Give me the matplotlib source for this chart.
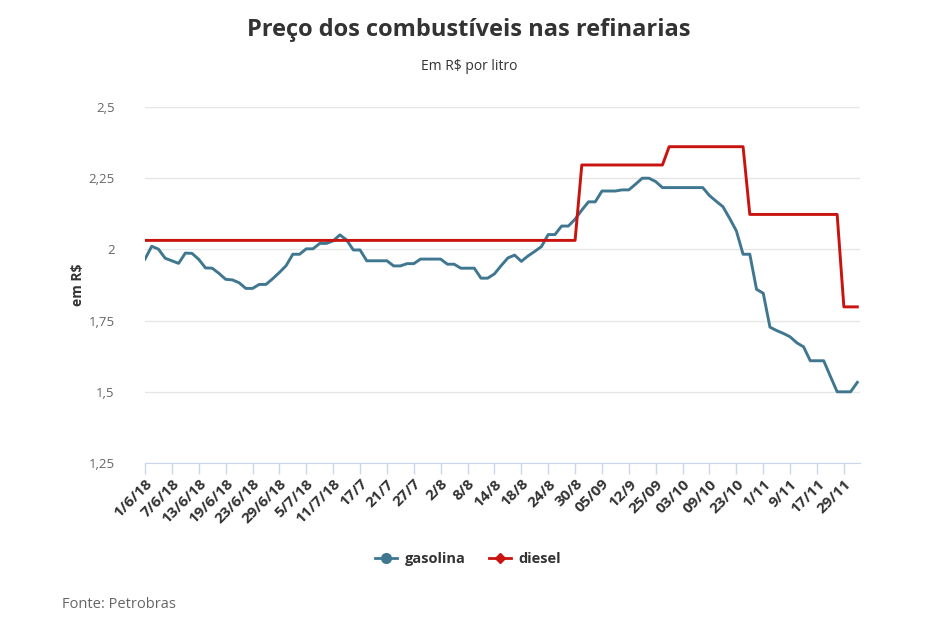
import matplotlib.pyplot as plt
from matplotlib.lines import Line2D

plt.rcParams['font.family'] = ['Open Sans', 'DejaVu Sans']

# rótulos do eixo x (um a cada 4 pontos)
rotulos = ["1/6/18", "7/6/18", "13/6/18", "19/6/18", "23/6/18", "29/6/18",
           "5/7/18", "11/7/18", "17/7", "21/7", "27/7", "2/8", "8/8", "14/8",
           "18/8", "24/8", "30/8", "05/09", "12/9", "25/09", "03/10", "09/10",
           "23/10", "1/11", "9/11", "17/11", "29/11"]

gasolina = [1.966, 2.011, 2.001, 1.969, 1.960, 1.951, 1.987, 1.986, 1.965, 1.935,
            1.934, 1.916, 1.895, 1.893, 1.883, 1.863, 1.863, 1.877, 1.877, 1.897,
            1.919, 1.943, 1.983, 1.983, 2.002, 2.002, 2.021, 2.021, 2.030, 2.051,
            2.033, 1.998, 1.998, 1.960, 1.960, 1.960, 1.960, 1.942, 1.942, 1.950,
            1.950, 1.966, 1.966, 1.966, 1.966, 1.948, 1.948, 1.934, 1.934, 1.934,
            1.899, 1.899, 1.914, 1.943, 1.970, 1.980, 1.958, 1.977, 1.993, 2.010,
            2.052, 2.052, 2.082, 2.082, 2.106, 2.138, 2.167, 2.167, 2.205, 2.205,
            2.205, 2.209, 2.209, 2.229, 2.250, 2.250, 2.238, 2.217, 2.217, 2.217,
            2.217, 2.217, 2.217, 2.217, 2.189, 2.169, 2.150, 2.109, 2.065, 1.983,
            1.983, 1.860, 1.846, 1.727, 1.715, 1.705, 1.693, 1.672, 1.658, 1.609,
            1.609, 1.609, 1.554, 1.500, 1.500, 1.500, 1.533]

diesel = [2.0316] * 65 + [2.2964] * 13 + [2.3606] * 12 + [2.1228] * 14 + [1.7982] * 3

x = list(range(len(gasolina)))
pos_rotulos = list(range(0, len(gasolina), 4))

cor_gas = '#3f7791'
cor_die = '#c8130f'

fig = plt.figure(figsize=(9.38, 6.29), dpi=100)
ax = fig.add_axes([145 / 938, 1 - 463 / 629, 715 / 938, 356 / 629])

ax.plot(x, gasolina, color=cor_gas, lw=2.1, solid_joinstyle='round')
ax.plot(x, diesel, color=cor_die, lw=2.1, solid_joinstyle='round')

ax.set_xlim(0, 106.4)
ax.set_ylim(1.25, 2.5)
yt = [1.25, 1.5, 1.75, 2.0, 2.25, 2.5]
ax.set_yticks(yt)
ax.set_yticklabels(["1,25", "1,5", "1,75", "2", "2,25", "2,5"], color='#666666', fontsize=9.5)
ax.grid(axis='y', color='#e6e6e6', lw=1)
ax.set_axisbelow(True)

ax.set_xticks(pos_rotulos)
ax.set_xticklabels(rotulos, rotation=45, ha='right', rotation_mode='anchor',
                   fontsize=11, fontweight='bold', color='#333333')
ax.tick_params(axis='x', length=8, color='#ccd6eb', width=1, pad=2)
ax.tick_params(axis='y', length=0, pad=22)

for s in ['top', 'right', 'left']:
    ax.spines[s].set_visible(False)
ax.spines['bottom'].set_color('#ccd6eb')

ax.set_ylabel("em R$", fontsize=10, fontweight='bold', color='#333333', labelpad=2)

fig.text(0.5, 1 - 30 / 629, "Preço dos combustíveis nas refinarias", ha='center', va='center',
         fontsize=17, fontweight='bold', color='#333333')
fig.text(0.5, 1 - 66 / 629, "Em R$ por litro", ha='center', va='center',
         fontsize=10, color='#333333')
fig.text(62 / 938, 1 - 604 / 629, "Fonte: Petrobras", ha='left', va='center',
         fontsize=10.5, color='#666666')

handles = [Line2D([], [], color=cor_gas, lw=2, marker='o', markersize=7),
           Line2D([], [], color=cor_die, lw=2, marker='D', markersize=5.5)]
fig.legend(handles, ["gasolina", "diesel"], loc='center', bbox_to_anchor=(468 / 938, 1 - 559 / 629),
           ncol=2, frameon=False, handlelength=1.5, columnspacing=1.6, handletextpad=0.5,
           prop={'weight': 'bold', 'size': 10.5}, labelcolor='#333333')

fig.savefig("out.png", dpi=100)
